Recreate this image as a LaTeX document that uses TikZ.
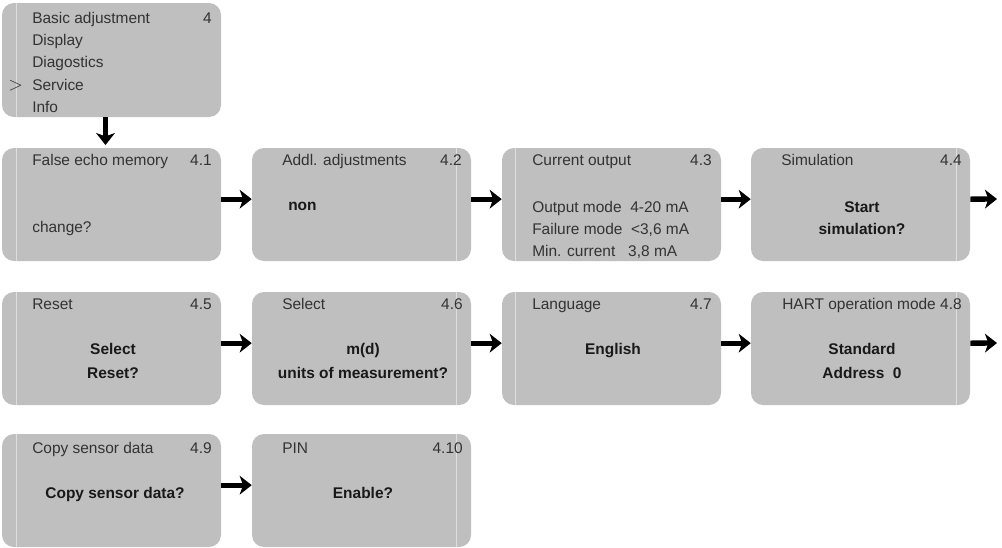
\documentclass[tikz,border=0pt]{standalone}
\usepackage{fontspec}
\setmainfont{Liberation Sans}
\usetikzlibrary{arrows.meta}
\definecolor{boxgray}{RGB}{191,191,191}
\definecolor{rulegray}{RGB}{222,222,222}
\begin{document}
\begin{tikzpicture}[x=0.75pt, y=-0.75pt,
  every node/.style={font=\fontsize{11.6}{13}\selectfont, inner sep=0pt, text=black!80},
  menubox/.style={fill=boxgray, rounded corners=9pt, minimum width=164.25pt, minimum height=84.75pt},
  title/.style={anchor=base west},
  num/.style={anchor=base east},
  val/.style={anchor=base, font=\fontsize{11.6}{13}\selectfont\bfseries, text=black!90},
  rulebar/.style={rulegray, line width=0.6pt},
  arr/.style={line width=4pt, -{Stealth[length=9pt, width=14pt, inset=2.5pt]}}]
  \useasboundingbox (0,0) rectangle (1002,547);
  \node[menubox, minimum height=85.5pt] (b0) at (111.5,60) {};
  \node[menubox] (b1) at (111.5,204.5) {};
  \node[menubox] (b2) at (361.5,204.5) {};
  \node[menubox] (b3) at (611.5,204.5) {};
  \node[menubox] (b4) at (860.5,204.5) {};
  \node[menubox] (b5) at (111.5,348.5) {};
  \node[menubox] (b6) at (361.5,348.5) {};
  \node[menubox] (b7) at (611.5,348.5) {};
  \node[menubox] (b8) at (860.5,348.5) {};
  \node[menubox] (b9) at (111.5,490.5) {};
  \node[menubox] (b10) at (361.5,490.5) {};
  \draw[rulebar] ([xshift=11.25pt]b0.north west) -- ([xshift=11.25pt]b0.south west);
  \draw[rulebar] ([xshift=11.25pt]b1.north west) -- ([xshift=11.25pt]b1.south west);
  \draw[rulebar] ([xshift=-11pt]b2.north east) -- ([xshift=-11pt]b2.south east);
  \draw[rulebar] ([xshift=10.5pt]b3.north west) -- ([xshift=10.5pt]b3.south west);
  \draw[rulebar] ([xshift=-10.5pt]b4.north east) -- ([xshift=-10.5pt]b4.south east);
  \draw[rulebar] ([xshift=11.25pt]b5.north west) -- ([xshift=11.25pt]b5.south west);
  \draw[rulebar] ([xshift=-11pt]b6.north east) -- ([xshift=-11pt]b6.south east);
  \draw[rulebar] ([xshift=10.5pt]b7.north west) -- ([xshift=10.5pt]b7.south west);
  \draw[rulebar] ([xshift=-10.5pt]b8.north east) -- ([xshift=-10.5pt]b8.south east);
  \draw[rulebar] ([xshift=11.25pt]b9.north west) -- ([xshift=11.25pt]b9.south west);
  \draw[rulebar] ([xshift=-11pt]b10.north east) -- ([xshift=-11pt]b10.south east);
  % main menu
  \node[title] (m1) at (32,23) {Basic adjustment};
  \node[num] (m0) at (212,23) {4};
  \node[title] (m2) at (32,45) {Display};
  \node[title] (m3) at (32,67) {Diagostics};
  \node[title] (m4) at (32,90) {Service};
  \node[title] (m5) at (32,112) {Info};
  \node[title, font=\fontsize{15}{15}\selectfont] (cur) at (8,90) {$>$};
  % row 1
  \node[title] (h1) at (32,165) {False echo memory};
  \node[num] (k1) at (212,165) {4.1};
  \node[title] (v1) at (32,232) {change?};
  \node[title] (h2) at (282,165) {Addl. adjustments};
  \node[num] (k2) at (462,165) {4.2};
  \node[val, anchor=base west] (v2) at (288,210) {non};
  \node[title] (h3) at (532,165) {Current output};
  \node[num] (k3) at (712,165) {4.3};
  \node[title] (v3a) at (532,212) {Output mode\ \ 4-20 mA};
  \node[title] (v3b) at (532,234) {Failure mode\ \ <3,6 mA};
  \node[title] (v3c) at (532,256) {Min. current\ \ \ 3,8 mA};
  \node[title] (h4) at (781,165) {Simulation};
  \node[num] (k4) at (962,165) {4.4};
  \node[val] (v4a) at (862,212) {Start};
  \node[val] (v4b) at (862,234) {simulation?};
  % row 2
  \node[title] (h5) at (32,309) {Reset};
  \node[num] (k5) at (212,309) {4.5};
  \node[val] (v5a) at (113,354) {Select};
  \node[val] (v5b) at (113,378) {Reset?};
  \node[title] (h6) at (282,309) {Select};
  \node[num] (k6) at (463,309) {4.6};
  \node[val] (v6a) at (363,354) {m(d)};
  \node[val] (v6b) at (363,378) {units of measurement?};
  \node[title] (h7) at (532,309) {Language};
  \node[num] (k7) at (712,309) {4.7};
  \node[val] (v7) at (613,354) {English};
  \node[title] (h8) at (782,309) {HART operation mode};
  \node[num] (k8) at (962,309) {4.8};
  \node[val] (v8a) at (862,354) {Standard};
  \node[val] (v8b) at (862,378) {Address\ \ 0};
  % row 3
  \node[title] (h9) at (32,453) {Copy sensor data};
  \node[num] (k9) at (212,453) {4.9};
  \node[val] (v9) at (115,498) {Copy sensor data?};
  \node[title] (h10) at (282,453) {PIN};
  \node[num] (k10) at (463,453) {4.10};
  \node[val] (v10) at (363,498) {Enable?};
  % arrows
  \coordinate (e4) at (997,199);
  \coordinate (e8) at (997,343);
  \draw[arr] ([xshift=-4.5pt]b0.south) -- ([xshift=-4.5pt, yshift=2pt]b1.north);
  \draw[arr] ([yshift=4pt]b1.east) -- ([yshift=4pt]b2.west); \draw[arr] ([yshift=4pt]b2.east) -- ([yshift=4pt]b3.west);
  \draw[arr] ([yshift=4pt]b3.east) -- ([yshift=4pt]b4.west); \draw[arr] ([yshift=4pt]b4.east) -- (e4);
  \draw[arr] ([yshift=4pt]b5.east) -- ([yshift=4pt]b6.west); \draw[arr] ([yshift=4pt]b6.east) -- ([yshift=4pt]b7.west);
  \draw[arr] ([yshift=4pt]b7.east) -- ([yshift=4pt]b8.west); \draw[arr] ([yshift=4pt]b8.east) -- (e8);
  \draw[arr] ([yshift=4pt]b9.east) -- ([yshift=4pt]b10.west);
\end{tikzpicture}
\end{document}
